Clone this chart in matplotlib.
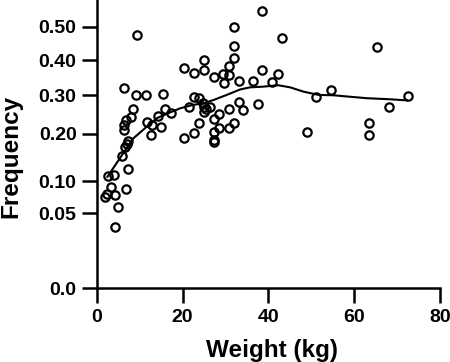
import numpy as np
import matplotlib
matplotlib.use("Agg")
import matplotlib.pyplot as plt

plt.rcParams['font.family'] = ['Liberation Sans', 'DejaVu Sans']
plt.rcParams['font.weight'] = 'bold'

# Observed points: weight (kg) and frequency
weight = [9.5, 6.4, 9.1, 11.5, 15.5, 8.5, 7.9, 6.8, 6.3, 6.3,
          7.4, 6.6, 7.1, 5.8, 7.3, 2.7, 4.1, 3.3, 6.9, 1.9,
          2.5, 4.2, 5.0, 4.2, 11.8, 12.6, 12.9, 14.2, 15.0, 16.0,
          17.2, 20.4, 22.7, 25.0, 24.9, 27.4, 29.5, 30.8, 30.8, 29.6,
          31.9, 31.9, 31.9, 33.1, 36.4, 38.6, 38.6, 40.9, 43.2, 42.3,
          21.4, 22.6, 23.9, 24.8, 24.9, 25.5, 26.3, 25.0, 23.9, 22.7,
          20.4, 27.3, 28.5, 27.3, 27.3, 27.3, 28.5, 30.8, 30.8, 32.0,
          33.1, 34.2, 37.6, 54.5, 51.2, 49.0, 65.3, 72.6, 68.1, 63.5,
          63.5]
frequency = [0.476, 0.321, 0.302, 0.301, 0.303, 0.262, 0.243, 0.234, 0.221, 0.210,
             0.183, 0.170, 0.176, 0.149, 0.122, 0.110, 0.112, 0.090, 0.086, 0.073,
             0.078, 0.077, 0.058, 0.034, 0.229, 0.197, 0.223, 0.245, 0.218, 0.264,
             0.252, 0.376, 0.363, 0.401, 0.372, 0.352, 0.360, 0.383, 0.356, 0.335,
             0.407, 0.442, 0.499, 0.340, 0.341, 0.373, 0.547, 0.336, 0.465, 0.361,
             0.269, 0.295, 0.293, 0.279, 0.267, 0.262, 0.268, 0.256, 0.228, 0.202,
             0.191, 0.236, 0.249, 0.205, 0.186, 0.180, 0.215, 0.262, 0.214, 0.228,
             0.283, 0.259, 0.275, 0.316, 0.294, 0.205, 0.439, 0.298, 0.267, 0.226,
             0.197]

# Smoothed curve
curve_weight = [2.5, 5.7, 8.5, 11.7, 14.0, 16.7, 19.5, 22.5, 24.8, 27.2,
                30.3, 33.4, 35.7, 38.8, 42.3, 45.1, 48.2, 51.7, 55.2, 59.0,
                62.9, 68.4, 72.3]
curve_freq = [0.108, 0.149, 0.189, 0.218, 0.239, 0.252, 0.265, 0.274, 0.278, 0.287,
              0.301, 0.316, 0.322, 0.324, 0.328, 0.322, 0.310, 0.301, 0.300, 0.296,
              0.292, 0.289, 0.286]

yticks = [0.0, 0.05, 0.10, 0.20, 0.30, 0.40, 0.50]
ytick_labels = ['0.0', '0.05', '0.10', '0.20', '0.30', '0.40', '0.50']
xticks = [0, 20, 40, 60, 80]
xtick_labels = ['0', '20', '40', '60', '80']


def fwd(p):
    return np.arcsin(np.sqrt(np.clip(p, 0, 1)))


def inv(a):
    return np.sin(np.clip(a, 0, np.pi / 2)) ** 2


fig = plt.figure(figsize=(4.5, 3.62), dpi=100)
ax = fig.add_axes([96.7 / 450, 1 - 288.3 / 362, (440 - 96.7) / 450, 288.3 / 362])
ax.set_yscale('function', functions=(fwd, inv))

ax.plot(curve_weight, curve_freq, color='black', lw=1.5, zorder=2)
ax.plot(weight, frequency, linestyle='none', marker='o', ms=6.0,
        mfc='none', mec='black', mew=1.6, zorder=3, clip_on=False)

ax.set_xlim(0, 80)
ax.set_ylim(0, 0.58)
ax.set_yticks(yticks)
ax.set_yticklabels(ytick_labels)
ax.set_xticks(xticks)
ax.set_xticklabels(xtick_labels)
ax.yaxis.set_minor_locator(matplotlib.ticker.NullLocator())
ax.xaxis.set_minor_locator(matplotlib.ticker.NullLocator())

for s in ['top', 'right']:
    ax.spines[s].set_visible(False)
for s in ['left', 'bottom']:
    ax.spines[s].set_linewidth(1.8)
ax.tick_params(axis='both', direction='out', length=11, width=1.8,
               labelsize=14, colors='black')
ax.tick_params(axis='y', pad=3.5)
ax.tick_params(axis='x', pad=4)
for lab in ax.get_xticklabels() + ax.get_yticklabels():
    lab.set_fontweight('bold')

fig.text(11 / 450, 1 - 156 / 362, 'Frequency', rotation=90, ha='center', va='center',
         fontsize=17.5, fontweight='bold')
fig.text(272 / 450, 1 - 357 / 362, 'Weight (kg)', ha='center', va='baseline',
         fontsize=17.5, fontweight='bold')

fig.savefig('out.png', dpi=100)
